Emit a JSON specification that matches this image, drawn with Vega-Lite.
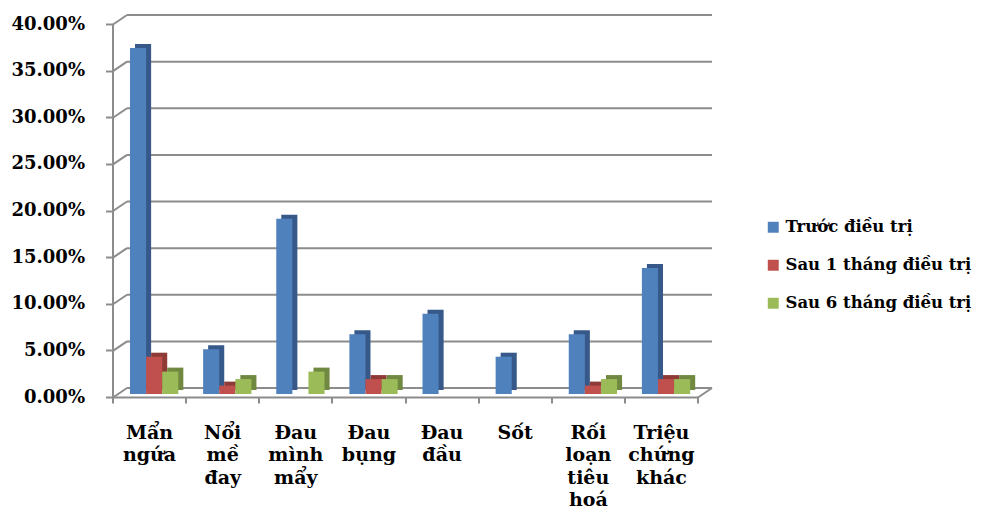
{
  "$schema": "https://vega.github.io/schema/vega-lite/v6.json",
  "width": 585,
  "height": 373,
  "autosize": {"type": "none"},
  "padding": {"left": 127, "top": 15, "right": 272, "bottom": 124},
  "background": "white",
  "config": {
    "view": {"stroke": null},
    "font": "DejaVu Serif",
    "axis": {
      "grid": false,
      "domainColor": "#8c8c8c",
      "domainWidth": 2,
      "tickColor": "#8c8c8c",
      "tickWidth": 2,
      "labelFont": "DejaVu Serif",
      "labelFontWeight": "bold",
      "labelColor": "#000000"
    }
  },
  "datasets": {
    "rates": [
      {"symptom": "Mẩn ngứa", "series": "Trước điều trị", "pct": 0.371},
      {"symptom": "Mẩn ngứa", "series": "Sau 1 tháng điều trị", "pct": 0.040},
      {"symptom": "Mẩn ngứa", "series": "Sau 6 tháng điều trị", "pct": 0.024},
      {"symptom": "Nổi mề đay", "series": "Trước điều trị", "pct": 0.048},
      {"symptom": "Nổi mề đay", "series": "Sau 1 tháng điều trị", "pct": 0.009},
      {"symptom": "Nổi mề đay", "series": "Sau 6 tháng điều trị", "pct": 0.016},
      {"symptom": "Đau mình mẩy", "series": "Trước điều trị", "pct": 0.188},
      {"symptom": "Đau mình mẩy", "series": "Sau 1 tháng điều trị", "pct": 0.0},
      {"symptom": "Đau mình mẩy", "series": "Sau 6 tháng điều trị", "pct": 0.024},
      {"symptom": "Đau bụng", "series": "Trước điều trị", "pct": 0.064},
      {"symptom": "Đau bụng", "series": "Sau 1 tháng điều trị", "pct": 0.016},
      {"symptom": "Đau bụng", "series": "Sau 6 tháng điều trị", "pct": 0.016},
      {"symptom": "Đau đầu", "series": "Trước điều trị", "pct": 0.086},
      {"symptom": "Đau đầu", "series": "Sau 1 tháng điều trị", "pct": 0.0},
      {"symptom": "Đau đầu", "series": "Sau 6 tháng điều trị", "pct": 0.0},
      {"symptom": "Sốt", "series": "Trước điều trị", "pct": 0.040},
      {"symptom": "Sốt", "series": "Sau 1 tháng điều trị", "pct": 0.0},
      {"symptom": "Sốt", "series": "Sau 6 tháng điều trị", "pct": 0.0},
      {"symptom": "Rối loạn tiêu hoá", "series": "Trước điều trị", "pct": 0.064},
      {"symptom": "Rối loạn tiêu hoá", "series": "Sau 1 tháng điều trị", "pct": 0.009},
      {"symptom": "Rối loạn tiêu hoá", "series": "Sau 6 tháng điều trị", "pct": 0.016},
      {"symptom": "Triệu chứng khác", "series": "Trước điều trị", "pct": 0.135},
      {"symptom": "Triệu chứng khác", "series": "Sau 1 tháng điều trị", "pct": 0.016},
      {"symptom": "Triệu chứng khác", "series": "Sau 6 tháng điều trị", "pct": 0.016}
    ],
    "gridLevels": [
      {"pct": 0}, {"pct": 0.05}, {"pct": 0.1}, {"pct": 0.15}, {"pct": 0.2},
      {"pct": 0.25}, {"pct": 0.3}, {"pct": 0.35}, {"pct": 0.4}
    ]
  },
  "layer": [
    {
      "description": "Back wall gridlines",
      "data": {"name": "gridLevels"},
      "mark": {"type": "rule", "color": "#8c8c8c", "strokeWidth": 2},
      "encoding": {
        "y": {"field": "pct", "type": "quantitative", "scale": {"domain": [0, 0.4], "nice": false},
          "axis": {"title": null, "orient": "left", "values": [0, 0.05, 0.1, 0.15, 0.2, 0.25, 0.3, 0.35, 0.4], "format": ".2%", "translate": 9.5, "offset": 23.5, "tickSize": 7, "labelPadding": 21, "labelFontSize": 18}}
      }
    },
    {
      "description": "Side wall slants joining the front axis to the back wall",
      "data": {"name": "gridLevels"},
      "mark": {"type": "rule", "color": "#8c8c8c", "strokeWidth": 2, "xOffset": -14, "yOffset": 9.5},
      "encoding": {
        "x": {"datum": 0, "type": "quantitative", "scale": {"domain": [0, 1]}, "axis": null},
        "x2": {"datum": 0},
        "y": {"field": "pct", "type": "quantitative",
          "axis": {"title": null, "orient": "left", "values": [0, 0.05, 0.1, 0.15, 0.2, 0.25, 0.3, 0.35, 0.4], "format": ".2%", "translate": 9.5, "offset": 23.5, "tickSize": 7, "labelPadding": 21, "labelFontSize": 18}},
        "y2": {"field": "pct"}
      }
    },
    {
      "description": "Floor corner slant on the right",
      "data": {"values": [{"pct": 0}]},
      "mark": {"type": "rule", "color": "#8c8c8c", "strokeWidth": 2, "xOffset": -14, "yOffset": 9.5},
      "encoding": {
        "x": {"datum": 1, "type": "quantitative", "scale": {"domain": [0, 1]}, "axis": null},
        "x2": {"datum": 1},
        "y": {"field": "pct", "type": "quantitative",
          "axis": {"title": null, "orient": "left", "values": [0, 0.05, 0.1, 0.15, 0.2, 0.25, 0.3, 0.35, 0.4], "format": ".2%", "translate": 9.5, "offset": 23.5, "tickSize": 7, "labelPadding": 21, "labelFontSize": 18}},
        "y2": {"field": "pct"}
      }
    },
    {
      "description": "Shaded depth of each column",
      "data": {"name": "rates"},
      "mark": {"type": "bar", "yOffset": 2, "strokeWidth": 0},
      "encoding": {
        "x": {"field": "symptom", "type": "nominal", "sort": null, "scale": {"paddingInner": 0, "paddingOuter": 0}, "axis": null},
        "xOffset": {"field": "series", "type": "nominal", "sort": ["Trước điều trị", "Sau 1 tháng điều trị", "Sau 6 tháng điều trị"],
          "scale": {"paddingInner": 0, "paddingOuter": 0.771, "align": 0.323}},
        "y": {"field": "pct", "type": "quantitative",
          "axis": {"title": null, "orient": "left", "values": [0, 0.05, 0.1, 0.15, 0.2, 0.25, 0.3, 0.35, 0.4], "format": ".2%", "translate": 9.5, "offset": 23.5, "tickSize": 7, "labelPadding": 21, "labelFontSize": 18}},
        "color": {"field": "series", "type": "nominal", "legend": null,
          "scale": {"domain": ["Trước điều trị", "Sau 1 tháng điều trị", "Sau 6 tháng điều trị"], "range": ["#36598a", "#8e3a37", "#70883f"]}}
      }
    },
    {
      "description": "Front face of each column",
      "data": {"name": "rates"},
      "mark": {"type": "bar", "yOffset": 6, "strokeWidth": 0},
      "encoding": {
        "x": {"field": "symptom", "type": "nominal", "sort": null, "scale": {"paddingInner": 0, "paddingOuter": 0},
          "axis": {"title": null, "orient": "bottom", "translate": -14, "offset": 23.5, "tickBand": "extent", "tickSize": 6,
            "labelAngle": 0, "labelFontSize": 19, "labelColor": "#000000", "labelPadding": 20, "labelLineHeight": 22.5,
            "labelOverlap": false, "labelLimit": 0, "labelExpr": "split(datum.label, ' ')"}},
        "xOffset": {"field": "series", "type": "nominal", "sort": ["Trước điều trị", "Sau 1 tháng điều trị", "Sau 6 tháng điều trị"],
          "scale": {"paddingInner": 0, "paddingOuter": 0.771, "align": 0.121}},
        "y": {"field": "pct", "type": "quantitative",
          "axis": {"title": null, "orient": "left", "values": [0, 0.05, 0.1, 0.15, 0.2, 0.25, 0.3, 0.35, 0.4], "format": ".2%", "translate": 9.5, "offset": 23.5, "tickSize": 7, "labelPadding": 21, "labelFontSize": 18}},
        "color": {"field": "series", "type": "nominal",
          "scale": {"domain": ["Trước điều trị", "Sau 1 tháng điều trị", "Sau 6 tháng điều trị"], "range": ["#4f81bd", "#c0504d", "#9bbb59"]},
          "legend": {"title": null, "orient": "none", "legendX": 638, "legendY": 204, "direction": "vertical",
            "symbolType": "square", "symbolSize": 120, "symbolStrokeWidth": 0, "rowPadding": 21, "labelOffset": 4,
            "labelFont": "DejaVu Serif", "labelFontSize": 16.5, "labelFontWeight": "bold", "labelColor": "#000000", "labelLimit": 0}}
      }
    }
  ],
  "resolve": {"scale": {"x": "independent", "xOffset": "independent", "color": "independent"}}
}
